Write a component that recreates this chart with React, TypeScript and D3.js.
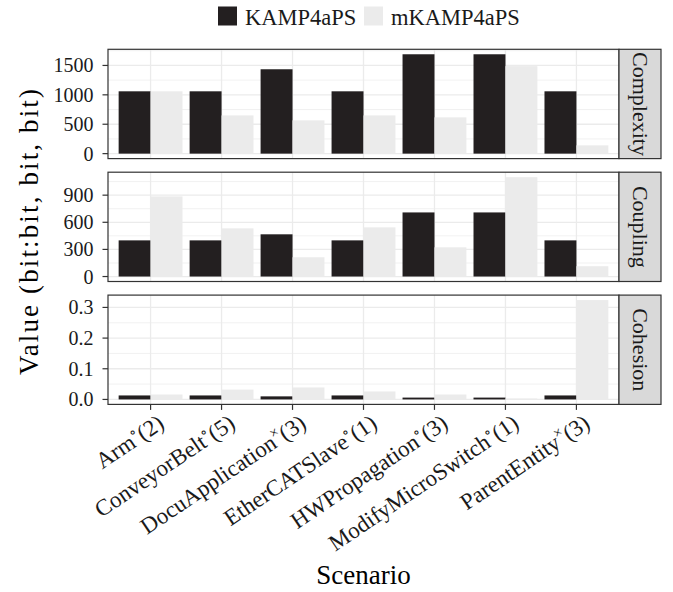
import React from 'react';
import * as d3 from 'd3';

// scenario names, the superscript mark and the count in brackets
const scenarios = ['Arm', 'ConveyorBelt', 'DocuApplication', 'EtherCATSlave', 'HWPropagation', 'ModifyMicroSwitch', 'ParentEntity'];
const marks = ['∘', '∘', '×', '∘', '∘', '∘', '×'];
const counts = [2, 5, 3, 1, 3, 1, 3];

const seriesNames = ['KAMP4aPS', 'mKAMP4aPS'];

const complexityK = [1060, 1060, 1435, 1060, 1690, 1690, 1060];
const complexityM = [1060, 650, 566, 650, 617, 1488, 141];
const couplingK = [400, 400, 467, 400, 709, 709, 400];
const couplingM = [886, 533, 213, 544, 323, 1099, 114];
const cohesionK = [0.013, 0.013, 0.01, 0.013, 0.006, 0.006, 0.013];
const cohesionM = [0.016, 0.032, 0.039, 0.026, 0.016, 0.003, 0.324];

const complexityTicks = [0, 500, 1000, 1500];
const couplingTicks = [0, 300, 600, 900];
const cohesionTicks = [0, 0.1, 0.2, 0.3];

const panels = [
  { name: 'Complexity', k: complexityK, m: complexityM, ticks: complexityTicks, fmt: (v: number) => String(v) },
  { name: 'Coupling', k: couplingK, m: couplingM, ticks: couplingTicks, fmt: (v: number) => String(v) },
  { name: 'Cohesion', k: cohesionK, m: cohesionM, ticks: cohesionTicks, fmt: (v: number) => v.toFixed(1) },
];

const W = 673;
const H = 592;
const left = 108;
const right = 619;
const stripW = 42;
const top0 = 49.3;
const panelH = 109.3;
const gap = 13.6;
const tickLen = 5.5;

const font = "'Liberation Serif', 'DejaVu Serif', serif";
const dark = '#231f20';
const light = '#ebebeb';
const grid = '#ebebeb';
const frame = '#333333';
const ink = '#1a1a1a';

const colors = d3.scaleOrdinal<string, string>().domain(seriesNames).range([dark, light]);

export default function App() {
  const x = d3.scalePoint<string>().domain(scenarios).range([left, right]).padding(0.6);
  const step = x.step();
  const xInner = d3.scaleBand<string>().domain(seriesNames).range([-0.45 * step, 0.45 * step]);

  const bottom = top0 + 3 * panelH + 2 * gap;

  return (
    <svg width={W} height={H} style={{ position: 'absolute', left: 0, top: 0, background: '#fff', fontFamily: font }}>
      {/* legend */}
      <g style={{ fontFamily: font }} fontSize={22.5} fill={ink}>
        <rect x={218} y={6.5} width={19} height={19} fill={colors(seriesNames[0])} />
        <text x={245} y={24.5}>{seriesNames[0]}</text>
        <rect x={364} y={6.5} width={19} height={19} fill={colors(seriesNames[1])} />
        <text x={391} y={24.5}>{seriesNames[1]}</text>
      </g>

      {panels.map((p, pi) => {
        const top = top0 + pi * (panelH + gap);
        const bot = top + panelH;
        const mx = d3.max([...p.k, ...p.m]) as number;
        const y = d3.scaleLinear().domain([-0.05 * mx, 1.05 * mx]).range([bot, top]);
        const stepY = p.ticks[1] - p.ticks[0];
        const minors: number[] = [];
        for (let v = p.ticks[0] - stepY / 2; v <= 1.05 * mx; v += stepY) {
          if (v >= -0.05 * mx) minors.push(v);
        }
        const bars = scenarios.flatMap((s, i) => [
          { s, series: seriesNames[0], v: p.k[i] },
          { s, series: seriesNames[1], v: p.m[i] },
        ]);
        return (
          <g key={p.name}>
            <rect x={left} y={top} width={right - left} height={panelH} fill="#fff" />
            {minors.map((v) => (
              <line key={'mi' + v} x1={left} x2={right} y1={y(v)} y2={y(v)} stroke={grid} strokeWidth={0.7} />
            ))}
            {p.ticks.map((v) => (
              <line key={'ma' + v} x1={left} x2={right} y1={y(v)} y2={y(v)} stroke={grid} strokeWidth={1.3} />
            ))}
            {scenarios.map((s) => (
              <line key={'vx' + s} x1={x(s)} x2={x(s)} y1={top} y2={bot} stroke={grid} strokeWidth={1.3} />
            ))}
            {bars.map((b) => {
              const y0 = y(0);
              const y1 = y(b.v);
              return (
                <rect
                  key={b.s + b.series}
                  x={(x(b.s) as number) + (xInner(b.series) as number)}
                  width={xInner.bandwidth()}
                  y={Math.min(y0, y1)}
                  height={Math.abs(y0 - y1)}
                  fill={colors(b.series)}
                />
              );
            })}
            <rect x={left} y={top} width={right - left} height={panelH} fill="none" stroke={frame} strokeWidth={1.2} />
            {/* strip */}
            <rect x={right} y={top} width={stripW} height={panelH} fill="#d9d9d9" stroke={frame} strokeWidth={1.2} />
            <text
              transform={`translate(${right + stripW / 2},${top + panelH / 2}) rotate(90)`}
              textAnchor="middle"
              dy="0.33em"
              fontSize={22}
              fill={ink}
              style={{ fontFamily: font }}
            >
              {p.name}
            </text>
            {/* y axis */}
            {p.ticks.map((v) => (
              <g key={'yt' + v}>
                <line x1={left - tickLen} x2={left} y1={y(v)} y2={y(v)} stroke={frame} strokeWidth={1.2} />
                <text x={left - tickLen - 9} y={y(v)} dy="0.35em" textAnchor="end" fontSize={20} fill={ink} style={{ fontFamily: font }}>
                  {p.fmt(v)}
                </text>
              </g>
            ))}
          </g>
        );
      })}

      {/* x axis */}
      {scenarios.map((s, i) => (
        <g key={'xt' + s}>
          <line x1={x(s)} x2={x(s)} y1={bottom} y2={bottom + tickLen} stroke={frame} strokeWidth={1.2} />
          <text
            transform={`translate(${(x(s) as number) + 6},${bottom + 9}) rotate(-34)`}
            textAnchor="end"
            dy="0.7em"
            fontSize={23}
            fill={ink}
            style={{ fontFamily: font }}
          >
            {s}
            <tspan fontSize={15} dy={-9}>{marks[i]}</tspan>
            <tspan dy={9}>({counts[i]})</tspan>
          </text>
        </g>
      ))}

      <text x={(left + right) / 2} y={584} textAnchor="middle" fontSize={27} fill="#000" style={{ fontFamily: font }}>
        Scenario
      </text>
      <text
        transform={`translate(38,232) rotate(-90)`}
        textAnchor="middle"
        fontSize={27}
        fill="#000"
        textLength={286}
        lengthAdjust="spacing"
        style={{ fontFamily: font }}
      >
        Value (bit:bit, bit, bit)
      </text>
    </svg>
  );
}
